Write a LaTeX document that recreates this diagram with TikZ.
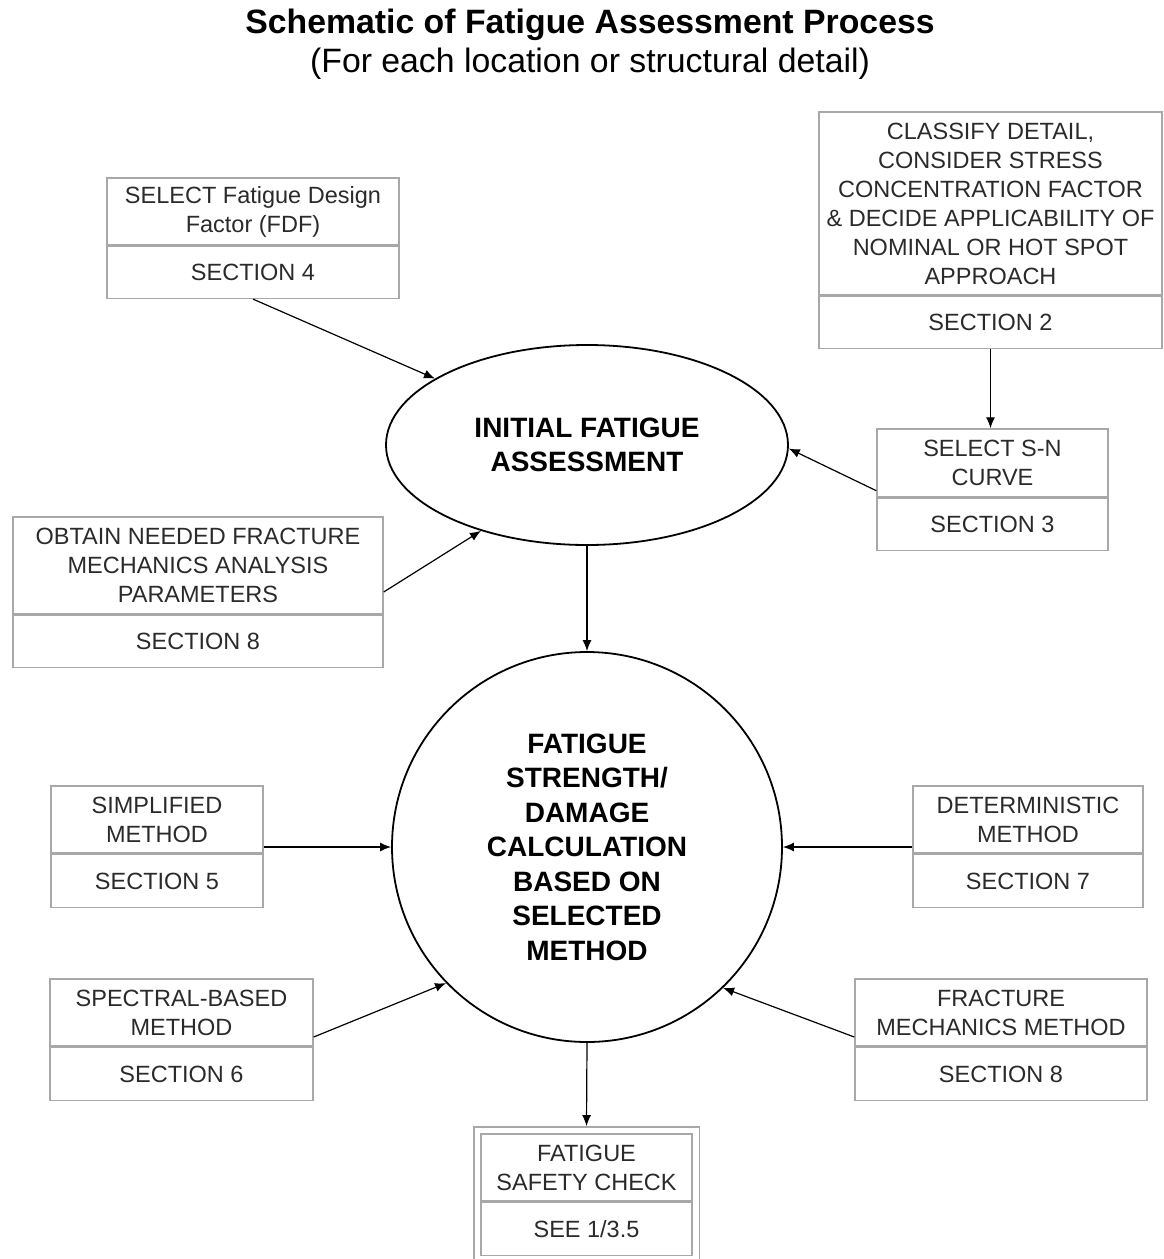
\documentclass[tikz,border=0pt]{standalone}
\usepackage{fontspec}
\setmainfont{Liberation Sans}
\usetikzlibrary{shapes.geometric,arrows.meta,fit,calc}
\definecolor{boxgray}{HTML}{A8A8A8}
\definecolor{txt}{HTML}{2A2A2A}
\begin{document}
\begin{tikzpicture}[x=1pt,y=-1pt,
  box/.style={draw=boxgray, line width=1.4pt, rectangle, inner sep=1pt, align=center, text=txt, font=\fontsize{23.5}{29}\selectfont},
  arr/.style={-{Latex[length=11pt,width=9pt]}, line width=1.2pt, black},
  bigshape/.style={font=\bfseries\fontsize{28}{34.5}\selectfont, align=center, draw, line width=1.8pt, inner sep=0pt}]
\useasboundingbox (0,0) rectangle (1163,1259);
\clip (0,0) rectangle (1163,1259);
% titles
\node[font=\bfseries\fontsize{33.8}{40}\selectfont] (title) at (590,25) {Schematic of Fatigue Assessment Process};
\node[font=\fontsize{33.8}{40}\selectfont] (sub) at (590,64) {(For each location or structural detail)};
% central shapes
\node[bigshape, ellipse, minimum width=402, minimum height=200] (ell) at (587,445) {INITIAL FATIGUE\\ASSESSMENT};
\node[bigshape, circle, minimum size=390] (circ) at (587,847) {FATIGUE\\STRENGTH/\\DAMAGE\\CALCULATION\\BASED ON\\SELECTED\\METHOD};
% boxes
\node[box, minimum width=292, minimum height=67] (fdf) at (253,211.5) {SELECT Fatigue Design\\Factor (FDF)};
\node[box, minimum width=292, minimum height=52, anchor=north] (fdfs) at (fdf.south) {SECTION 4};
\node[box, minimum width=343, minimum height=183] (cls) at (990.5,203.5) {CLASSIFY DETAIL,\\CONSIDER STRESS\\CONCENTRATION FACTOR\\\& DECIDE APPLICABILITY OF\\NOMINAL OR HOT SPOT\\APPROACH};
\node[box, minimum width=343, minimum height=52, anchor=north] (clss) at (cls.south) {SECTION 2};
\node[box, minimum width=231, minimum height=68] (sn) at (992.5,463) {SELECT S-N\\CURVE};
\node[box, minimum width=231, minimum height=52, anchor=north] (sns) at (sn.south) {SECTION 3};
\node[box, minimum width=370, minimum height=97] (obt) at (198,565.5) {OBTAIN NEEDED FRACTURE\\MECHANICS ANALYSIS\\PARAMETERS};
\node[box, minimum width=370, minimum height=52, anchor=north] (obts) at (obt.south) {SECTION 8};
\node[box, minimum width=212, minimum height=67] (simp) at (157,819.5) {SIMPLIFIED\\METHOD};
\node[box, minimum width=212, minimum height=53, anchor=north] (simps) at (simp.south) {SECTION 5};
\node[box, minimum width=230, minimum height=67] (det) at (1028,819.5) {DETERMINISTIC\\METHOD};
\node[box, minimum width=230, minimum height=53, anchor=north] (dets) at (det.south) {SECTION 7};
\node[box, minimum width=263, minimum height=67] (spec) at (181.5,1012.5) {SPECTRAL-BASED\\METHOD};
\node[box, minimum width=263, minimum height=53, anchor=north] (specs) at (spec.south) {SECTION 6};
\node[box, minimum width=292, minimum height=67] (frac) at (1001,1012.5) {FRACTURE\\MECHANICS METHOD};
\node[box, minimum width=292, minimum height=53, anchor=north] (fracs) at (frac.south) {SECTION 8};
\node[box, minimum width=211, minimum height=67] (safet) at (586.5,1167.5) {FATIGUE\\SAFETY CHECK};
\node[box, minimum width=211, minimum height=53, anchor=north] (safes) at (safet.south) {SEE 1/3.5};
\node[draw=boxgray, line width=1.4pt, fit=(safet)(safes), inner sep=6.5pt] (safe) {};
% connectors
\draw[arr] (fdfs.south) -- (ell);
\draw[arr] (clss.south) -- (clss.south |- sn.north);
\draw[arr] ($(sns.north west)+(0,-7)$) -- (ell.-1);
\draw[arr] ($(obt.east)+(0,26.5)$) -- (ell.219);
\draw[arr] (ell.south) -- (circ.north);
\draw[arr] (circ.west -| simp.east) -- (circ.west);
\draw[arr] (circ.east -| det.west) -- (circ.east);
\draw[arr] ($(spec.east)+(0,24.5)$) -- (circ.224);
\draw[arr] ($(frac.west)+(0,24.5)$) -- (circ.-46);
\draw[arr] (circ.south) -- (safe.north);
\end{tikzpicture}
\end{document}
